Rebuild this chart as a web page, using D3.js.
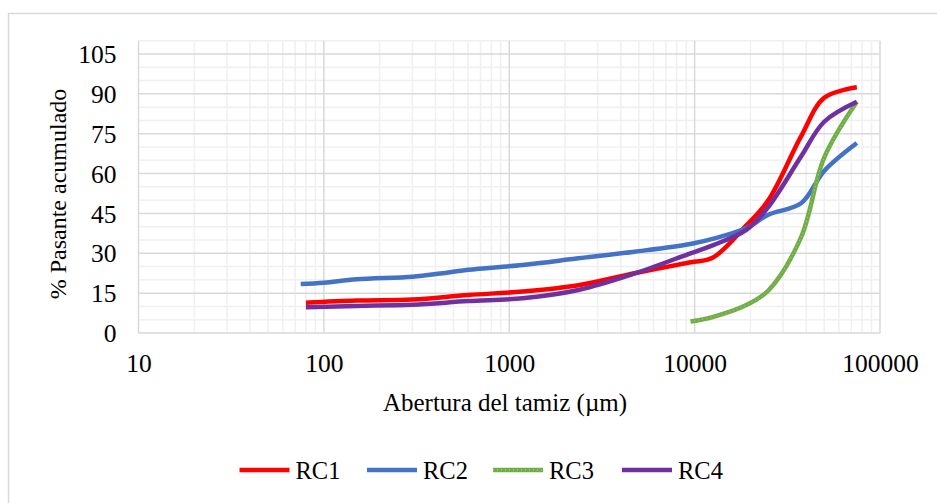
<!DOCTYPE html>
<html>
<head>
<meta charset="utf-8">
<script src="https://cdn.jsdelivr.net/npm/d3@7"></script>
<style>
  body { margin: 0; background: #fff; }
  text { font-family: "Liberation Serif", "Times New Roman", serif; fill: #000; }
</style>
</head>
<body>
<div id="chart"></div>
<script>
// sieve openings (µm) and % passing
var sizesA = [80, 150, 300, 600, 1180, 2360, 4750, 9500, 12500, 19000, 25000, 37500, 50000, 75000];
var sizesB = [75, 100, 150, 300, 425, 600, 1180, 2360, 4750, 9500, 12500, 19000, 25000, 37500, 50000, 75000];
var sizesC = [9500, 12500, 19000, 25000, 37500, 50000, 75000];

var rc1 = [11.4, 12.2, 12.6, 14.3, 15.6, 18, 22.5, 26.6, 28.3, 40.5, 50, 74, 88.5, 92.5];
var rc2 = [18.4, 18.9, 20.2, 21.2, 22.4, 23.8, 25.6, 28.1, 30.6, 33.5, 35.4, 39.5, 44.5, 48.8, 61, 71.5];
var rc3 = [4.3, 6, 10.5, 16, 36, 66, 87];
var rc4 = [9.7, 10.2, 10.6, 12, 13.1, 16.2, 22.4, 30, 33, 38.8, 47.5, 66.4, 79.5, 87];

var seriesNames = ["RC1", "RC2", "RC3", "RC4"];
var seriesColors = ["#ff0000", "#4472c4", "#70ad47", "#7030a0"];

var yTicks = [0, 15, 30, 45, 60, 75, 90, 105];
var xTicks = [10, 100, 1000, 10000, 100000];

const width = 937, height = 503;
const margins = { top: 40.7, right: 57, bottom: 170, left: 138.5 };

const svg = d3.select("#chart").append("svg")
  .attr("width", width)
  .attr("height", height);

// outer chart border
svg.append("rect")
  .attr("x", 8.5).attr("y", 13.5)
  .attr("width", 940).attr("height", 500)
  .attr("fill", "none").attr("stroke", "#d9d9d9").attr("stroke-width", 1.5);

const x = d3.scaleLog().domain([10, 100000]).range([margins.left, width - margins.right]);
const y = d3.scaleLinear().domain([0, 110]).range([333, margins.top]);

const grid = svg.append("g");

// minor vertical
var minorX = [];
for (var dec = 10; dec < 100000; dec *= 10) {
  for (var k = 2; k <= 9; k++) minorX.push(dec * k);
}
grid.selectAll(".vmin").data(minorX).enter().append("line")
  .attr("x1", d => x(d)).attr("x2", d => x(d))
  .attr("y1", y(110)).attr("y2", y(0))
  .attr("stroke", "#f0f0f0").attr("stroke-width", 1.5);

// minor horizontal
var minorY = d3.range(5, 111, 5).filter(d => d % 15 != 0);
grid.selectAll(".hmin").data(minorY).enter().append("line")
  .attr("x1", x(10)).attr("x2", x(100000))
  .attr("y1", d => y(d)).attr("y2", d => y(d))
  .attr("stroke", "#f0f0f0").attr("stroke-width", 1.5);

// major
grid.selectAll(".hmaj").data(yTicks).enter().append("line")
  .attr("x1", x(10)).attr("x2", x(100000))
  .attr("y1", d => y(d)).attr("y2", d => y(d))
  .attr("stroke", "#d9d9d9").attr("stroke-width", 1.5);
grid.selectAll(".vmaj").data(xTicks).enter().append("line")
  .attr("x1", d => x(d)).attr("x2", d => x(d))
  .attr("y1", y(110)).attr("y2", y(0))
  .attr("stroke", "#d9d9d9").attr("stroke-width", 1.5);

// axes (labels only, Excel style)
const yAxis = d3.axisLeft(y).tickValues(yTicks).tickSize(0).tickPadding(0);
const yg = svg.append("g").attr("transform", `translate(${x(10) - 22},0)`).call(yAxis);
yg.select(".domain").remove();
yg.selectAll("text")
  .attr("font-family", "Liberation Serif")
  .style("font-size", "25.5px")
  .attr("dy", "0.34em");

const xAxis = d3.axisBottom(x).tickValues(xTicks).tickFormat(d3.format("d")).tickSize(0).tickPadding(0);
const xg = svg.append("g").attr("transform", `translate(0,${y(0) + 21})`).call(xAxis);
xg.select(".domain").remove();
xg.selectAll("text")
  .attr("font-family", "Liberation Serif")
  .style("font-size", "25.5px")
  .attr("dy", "0.71em");

// titles
svg.append("text")
  .attr("x", 505).attr("y", 411)
  .attr("text-anchor", "middle")
  .style("font-size", "25px")
  .text("Abertura del tamiz (µm)");

svg.append("text")
  .attr("transform", "translate(66,194) rotate(-90)")
  .attr("text-anchor", "middle")
  .style("font-size", "24px")
  .text("% Pasante acumulado");

// lines
const line = d3.line()
  .x(d => x(d[0]))
  .y(d => y(d[1]))
  .curve(d3.curveCatmullRom.alpha(0.5));

var allSeries = [
  d3.zip(sizesA, rc1),
  d3.zip(sizesB, rc2),
  d3.zip(sizesC, rc3),
  d3.zip(sizesA, rc4)
];

const plot = svg.append("g");
allSeries.forEach(function(s, i) {
  plot.append("path")
    .attr("d", line(s))
    .attr("fill", "none")
    .attr("stroke", seriesColors[i])
    .attr("stroke-width", 4.5);
  if (i == 2) {
    plot.append("path")
      .attr("d", line(s))
      .attr("fill", "none")
      .attr("stroke", "#ffffff")
      .attr("stroke-opacity", 0.45)
      .attr("stroke-width", 1)
      .attr("stroke-dasharray", "1,3");
  }
});

// legend
var legendX = [239.5, 367, 493, 622];
const legend = svg.append("g");
seriesNames.forEach(function(name, i) {
  legend.append("line")
    .attr("x1", legendX[i]).attr("x2", legendX[i] + 50)
    .attr("y1", 470).attr("y2", 470)
    .attr("stroke", seriesColors[i])
    .attr("stroke-width", 4.5);
  if (i == 2) {
    legend.append("line")
      .attr("x1", legendX[i]).attr("x2", legendX[i] + 50)
      .attr("y1", 470).attr("y2", 470)
      .attr("stroke", "#ffffff").attr("stroke-opacity", 0.5)
      .attr("stroke-width", 1).attr("stroke-dasharray", "1,3");
  }
  legend.append("text")
    .attr("x", legendX[i] + 56).attr("y", 478.5)
    .style("font-size", "24.5px")
    .text(name);
});
</script>
</body>
</html>
